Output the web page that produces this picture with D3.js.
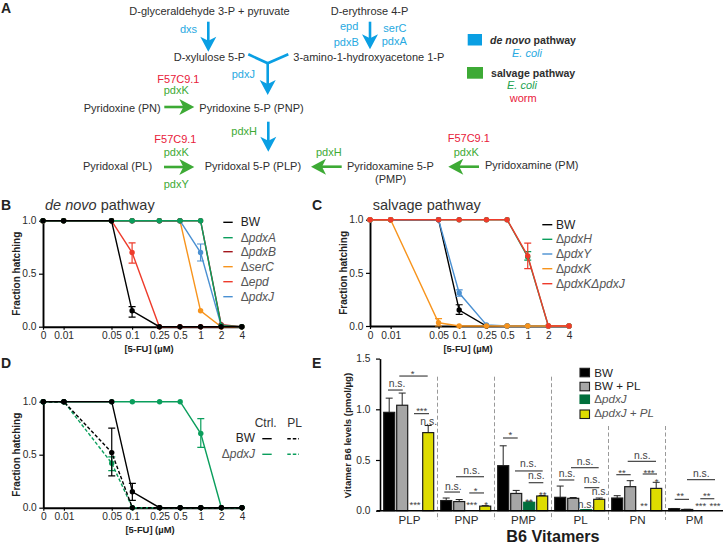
<!DOCTYPE html>
<html><head><meta charset="utf-8">
<script src="https://cdn.jsdelivr.net/npm/d3@7/dist/d3.min.js"></script>
<style>
html,body{margin:0;padding:0;background:#fff}
svg{display:block}
text{font-family:"Liberation Sans",Arial,sans-serif}
</style></head><body><svg id="c" width="723" height="548"></svg>
<script>
// ---------- dose-response data ----------
const doseLabels = ["0","0.01","0.05","0.1","0.25","0.5","1","2","4"];
const dosePositions = [0.005,0.01,0.05,0.1,0.25,0.5,1,2,4];

const bBW    = [1,1,1,0.15,0,0,0,0,0];
const bPdxA  = [1,1,1,1,1,1,1,0.01,0];
const bPdxB  = [1,1,1,1,1,1,1,0.02,0];
const bSerC  = [1,1,1,1,1,1,0.15,0,0];
const bEpd   = [1,1,1,0.7,0,0,0,0,0];
const bPdxJ  = [1,1,1,1,1,1,0.7,0.01,0];

const cBW    = [1,1,1,0.15,0,0,0,0,0];
const cPdxH  = [1,1,1,1,1,1,0.65,0,0];
const cPdxY  = [1,1,1,0.31,0.01,0,0,0,0];
const cPdxK  = [1,1,0.03,0,0,0,0,0,0];
const cPdxKJ = [1,1,1,1,1,1,0.66,0,0];

const dBW     = [1,1,1,0.15,0,0,0,0,0];
const dPdxJ   = [1,1,1,1,1,1,0.7,0,0];
const dBWPL   = [1,1,0.52,0,0,0,0,0,0];
const dPdxJPL = [1,1,0.42,0,0,0,0,0,0];

// ---------- vitamer data ----------
const vitamers = ["PLP","PNP","PMP","PL","PN","PM"];
const vSeries = ["BW","BW + PL","pdxJ","pdxJ + PL"];
const vBW      = [0.97,0.10,0.444,0.132,0.125,0.02];
const vBWPL    = [1.04,0.09,0.17,0.122,0.237,0.012];
const vPdxJ    = [0,0,0.083,0.01,0,0];
const vPdxJPL  = [0.77,0.045,0.145,0.112,0.22,0];
const vBWTop     = [1.11,0.125,0.64,0.243,0.148,0.022];
const vBWPLTop   = [1.16,0.11,0.20,0.13,0.296,0.014];
const vPdxJTop   = [0,0,0.088,0.012,0,0];
const vPdxJPLTop = [0.84,0.05,0.15,0.125,0.28,0];

// significance brackets: vitamer, from, to (px inside group), level (value)
const sigLines = [
 ["PLP",18.3,46.7,1.328],["PLP",7,21.7,1.19],["PLP",33,48,0.957],
 ["PNP",6.3,22,0.184],["PNP",18,46,0.335],["PNP",31.3,46,0.175],
 ["PMP",8,22.7,0.717],["PMP",20,47.7,0.392],["PMP",33.7,48.3,0.276],
 ["PL",7,22.3,0.303],["PL",19,46.7,0.424],["PL",32.3,47.3,0.227],
 ["PN",7.3,21.7,0.355],["PN",18.7,47,0.487],["PN",33.7,48,0.362],
 ["PM",8.7,23,0.112],["PM",21,49,0.306],["PM",34.3,48.3,0.118]];
const sigTexts = [
 ["PLP",31.7,1.319,"*"],["PLP",16,1.223,"n.s."],["PLP",40.7,0.955,"***"],["PLP",47.7,0.85,"n.s."],["PLP",34,0.022,"***"],
 ["PNP",15.3,0.204,"n.s."],["PNP",33.7,0.362,"n.s."],["PNP",37.7,0.160,"*"],["PNP",33.7,0.022,"***"],["PNP",48,0.022,"*"],
 ["PMP",15.3,0.719,"*"],["PMP",33.3,0.434,"n.s."],["PMP",41.3,0.313,"n.s."],["PMP",34,0.061,"**"],["PMP",47.7,0.125,"**"],
 ["PL",15,0.332,"n.s."],["PL",33,0.451,"n.s."],["PL",40,0.270,"n.s."],["PL",48,0.155,"n.s."],["PL",34,0.027,"n.s."],
 ["PN",13,0.347,"**"],["PN",33.3,0.507,"n.s."],["PN",40,0.347,"***"],["PN",47.7,0.258,"*"],["PN",35,0.012,"**"],
 ["PM",14.3,0.117,"**"],["PM",35.3,0.335,"n.s."],["PM",40.7,0.117,"**"],["PM",34.7,0.012,"***"],["PM",49,0.012,"***"]];

// ---------- palette ----------
const cGreen="#0a9e5c", cDark="#a3161c", cOrange="#f7941d", cRed="#ee3b2b", cBlue="#4a90d2";
const aBlue="#0a9fe3", tBlue="#27a9e1", aGreen="#3daa35", tRed="#e8203a", txt="#2e2e2e";

const svg=d3.select("#c");
const put=(x,y,s,o={})=>{
  const t=svg.append("text").attr("x",x).attr("y",y).text(s)
    .attr("font-size",o.size||11).attr("fill",o.fill||txt)
    .attr("text-anchor",o.anchor||"start");
  if(o.bold)t.attr("font-weight","bold");
  if(o.italic)t.attr("font-style","italic");
  return t;
};

// ---------- Panel A ----------
const pathwayLabels=[
 ["D-glyceraldehyde 3-P + pyruvate",129.3,15,txt],["D-erythrose 4-P",330.7,15,txt],
 ["dxs",180,33.3,tBlue],["epd",340,30,tBlue],["serC",383.3,32,tBlue],["pdxB",333.7,45.7,tBlue],["pdxA",381.7,45.3,tBlue],
 ["D-xylulose 5-P",173.7,61,txt],["3-amino-1-hydroxyacetone 1-P",293.3,61,txt],["pdxJ",231.7,77.7,tBlue],
 ["F57C9.1",157.3,83.3,tRed],["pdxK",163.7,94,aGreen],["Pyridoxine (PN)",83.7,112,txt],["Pyridoxine 5-P (PNP)",199.3,112,txt],
 ["pdxH",231.3,135,aGreen],["F57C9.1",154.3,142.7,tRed],["pdxK",163.7,156,aGreen],["Pyridoxal (PL)",83,170,txt],
 ["Pyridoxal 5-P (PLP)",204.7,170,txt],["pdxY",163.7,187.7,aGreen],["pdxH",316,155.7,aGreen],
 ["Pyridoxamine 5-P",347,170,txt],["(PMP)",375,182.7,txt],["F57C9.1",447.7,142.3,tRed],["pdxK",453.7,155.7,aGreen],
 ["Pyridoxamine (PM)",485,168.5,txt]];
pathwayLabels.forEach(d=>put(d[1],d[2],d[0],{fill:d[3]}));

const arrow=(x0,y0,x1,y1,col)=>{
  const a=Math.atan2(y1-y0,x1-x0),L=Math.hypot(x1-x0,y1-y0);
  const g=svg.append("g").attr("transform",`translate(${x0},${y0}) rotate(${a*180/Math.PI})`);
  g.append("line").attr("x1",0).attr("x2",L-6).attr("y1",0).attr("y2",0).attr("stroke",col).attr("stroke-width",2.6);
  g.append("path").attr("d",`M${L},0L${L-15},-8L${L-11},0L${L-15},8Z`).attr("fill",col);
};
[[208.3,21.7,208.3,51.7,aBlue],[370,21.7,370,49.3,aBlue],[267.7,63,267.7,95,aBlue],[268.3,121.7,268.3,151.7,aBlue],
 [164.3,107,194.3,107,aGreen],[164,167,194.3,167,aGreen],[341.7,166.7,311,166.7,aGreen],[479,166.7,448.3,166.7,aGreen]]
 .forEach(d=>arrow(...d));
svg.append("path").attr("d","M248.3,54.3L267.7,63.3L288.3,54.3").attr("fill","none").attr("stroke",aBlue).attr("stroke-width",2.6);

svg.append("rect").attr("x",467.7).attr("y",34).attr("width",14.3).attr("height",11.5).attr("fill",aBlue);
svg.append("rect").attr("x",467).attr("y",67).attr("width",16).attr("height",11.7).attr("fill",aGreen);
const dn=put(490,43.7,"",{bold:true,size:10.6});
dn.append("tspan").attr("font-style","italic").text("de novo");dn.append("tspan").text(" pathway");
put(512,56.7,"E. coli",{fill:tBlue,italic:true});
put(491,76.7,"salvage pathway",{bold:true,size:10.6});
put(507,88.7,"E. coli",{fill:"#22a24f",italic:true});
put(509.7,101.7,"worm",{fill:tRed});

// panel letters
[["A",1,13],["B",1,209.5],["C",312,210],["D",1,368],["E",312,368]].forEach(d=>put(d[1],d[2],d[0],{bold:true,size:14,fill:"#222"}));
const tt=put(45,210,"",{size:14.5,fill:"#333"});
tt.append("tspan").attr("font-style","italic").text("de novo");tt.append("tspan").text(" pathway");
put(372.7,210,"salvage pathway",{size:14.5,fill:"#333"});

// ---------- dose-response panels ----------
function panel(p){
  const x=d3.scaleLog().domain([0.005,4]).range([p.x0,p.x1]);
  const y=d3.scaleLinear().domain([0,1]).range([p.y0,p.y1]);
  const g=svg.append("g");
  const ax=g.append("g").attr("transform",`translate(0,${p.y0})`)
    .call(d3.axisBottom(x).tickValues(dosePositions).tickFormat((d,i)=>doseLabels[i]).tickSize(3).tickSizeOuter(0));
  const ay=g.append("g").attr("transform",`translate(${p.x0},0)`)
    .call(d3.axisLeft(y).tickValues([0,0.5,1]).tickFormat(d3.format(".1f")).tickSize(4).tickSizeOuter(0));
  [ax,ay].forEach(a=>{
    a.selectAll("path").attr("stroke","#000").attr("stroke-width",1.9);
    a.selectAll("line").attr("stroke","#000").attr("stroke-width",1.2);
    a.selectAll("text").attr("font-size",10.2).attr("fill","#2a2a2a").style("font-family",'"Liberation Sans",Arial,sans-serif');
  });
  ax.selectAll("text").attr("y",5.5);
  ay.selectAll("text").attr("x",-6.5);
  put(p.lx,p.y0+25.5,"[5-FU] (µM)",{bold:true,size:9.4,anchor:"middle",fill:"#222"});
  put(0,0,"Fraction hatching",{bold:true,size:10,anchor:"middle",fill:"#222"})
    .attr("transform",`translate(${p.x0-23.5},${(p.y0+p.y1)/2}) rotate(-90)`);
  const line=d3.line().x((d,i)=>x(dosePositions[i])).y(d=>y(d));
  p.series.forEach(s=>{
    g.append("path").datum(s.v).attr("d",line).attr("fill","none").attr("stroke",s.c)
      .attr("stroke-width",1.4).attr("stroke-dasharray",s.dash?"3.5,2":null);
    (s.err||[]).forEach(e=>{
      const X=x(dosePositions[e[0]]);
      g.append("path").attr("d",`M${X-3.5},${y(e[1])}H${X+3.5}M${X},${y(e[1])}V${y(e[2])}M${X-3.5},${y(e[2])}H${X+3.5}`)
        .attr("stroke",s.c).attr("stroke-width",1.2).attr("fill","none");
    });
    g.selectAll(null).data(s.v).join("circle")
      .attr("cx",(d,i)=>x(dosePositions[i])).attr("cy",d=>y(d)).attr("r",2.7).attr("fill",s.c);
  });
}
const ital=(x,y,name,size,anchor)=>{
  const t=put(x,y,"",{size:size||12,fill:"#555",anchor:anchor||"start"});
  t.append("tspan").text("Δ");t.append("tspan").attr("font-style","italic").text(name);
  return t;
};
const keyLine=(x0,x1,y,c,dash)=>svg.append("line").attr("x1",x0).attr("x2",x1).attr("y1",y).attr("y2",y)
  .attr("stroke",c).attr("stroke-width",1.4).attr("stroke-dasharray",dash?"3.5,2":null);

panel({x0:43,x1:241.8,y0:326.7,y1:220.7,lx:149,series:[
 {v:bEpd,c:cRed,err:[[3,0.6,0.79]]},
 {v:bSerC,c:cOrange},
 {v:bPdxJ,c:cBlue,err:[[6,0.62,0.78]]},
 {v:bPdxB,c:cDark},
 {v:bPdxA,c:cGreen},
 {v:bBW,c:"#000",err:[[3,0.09,0.19]]}]});
[["BW","#000",222.3],["pdxA",cGreen,237.7],["pdxB",cDark,251.7],["serC",cOrange,266.7],["epd",cRed,281.7],["pdxJ",cBlue,296.7]]
 .forEach((d,i)=>{keyLine(223.3,232.7,d[2],d[1]);
   if(i===0)put(240.7,d[2]+4,d[0],{size:12,fill:"#222"});else ital(240.7,d[2]+4,d[0]);});

panel({x0:370,x1:569,y0:326,y1:219.7,lx:468,series:[
 {v:cBW,c:"#000",err:[[3,0.11,0.20]]},
 {v:cPdxH,c:cGreen,err:[[6,0.62,0.7]]},
 {v:cPdxY,c:cBlue,err:[[3,0.28,0.34]]},
 {v:cPdxK,c:cOrange,err:[[2,0,0.07]]},
 {v:cPdxKJ,c:cRed,err:[[6,0.54,0.78]]}]});
[["BW","#000",224.7],["pdxH",cGreen,239.3],["pdxY",cBlue,254],["pdxK",cOrange,268.7],["pdxKΔpdxJ",cRed,283.7]]
 .forEach((d,i)=>{keyLine(542.3,552.3,d[2],d[1]);
   if(i===0)put(556,d[2]+4,d[0],{size:12,fill:"#222"});else ital(556,d[2]+4,d[0]);});

panel({x0:43.3,x1:242,y0:507.7,y1:401.7,lx:150,series:[
 {v:dPdxJ,c:cGreen,err:[[6,0.57,0.84]]},
 {v:dPdxJPL,c:cGreen,dash:true,err:[[2,0.35,0.48]]},
 {v:dBW,c:"#000",err:[[3,0.07,0.23]]},
 {v:dBWPL,c:"#000",dash:true,err:[[2,0.3,0.75]]}]});
put(254.7,426.7,"Ctrl.",{size:12,fill:"#333"});
put(287.3,426.7,"PL",{size:12,fill:"#333"});
put(235.7,441.7,"BW",{size:12,fill:"#222"});
ital(221.7,458.3,"pdxJ");
keyLine(262.3,271.7,438.7,"#000");keyLine(287.3,299,438.7,"#000",true);
keyLine(262.3,271.7,454.3,cGreen);keyLine(287.3,299,454.3,cGreen,true);

// ---------- Panel E ----------
const yE=d3.scaleLinear().domain([0,1.5]).range([510.7,358.6]);
const xE=d3.scaleBand().domain(vitamers).range([381,723]);
const xS=d3.scaleBand().domain(vSeries).range([2.7,52.7]).paddingInner(2/13);
const eColors=["#000","#a6a6a6","#006f3c","#dedc00"];
const eVals=[vBW,vBWPL,vPdxJ,vPdxJPL], eTops=[vBWTop,vBWPLTop,vPdxJTop,vPdxJPLTop];

vitamers.slice(1).forEach((v,i)=>{
  const X=xE(v)-0.5;
  svg.append("line").attr("x1",X).attr("x2",X).attr("y1",i<3?376.7:426).attr("y2",520)
    .attr("stroke","#999").attr("stroke-width",1).attr("stroke-dasharray","4,2.5");
});
const gE=svg.append("g");
vSeries.forEach((s,k)=>{
  const gs=gE.append("g");
  vitamers.forEach((v,i)=>{
    if(eVals[k][i]<=0)return;
    const X=xE(v)+xS(s),W=xS.bandwidth(),C=X+W/2;
    gs.append("path").attr("d",`M${C},${yE(eVals[k][i])}V${yE(eTops[k][i])}M${C-3.5},${yE(eTops[k][i])}H${C+3.5}`)
      .attr("stroke","#222").attr("stroke-width",1).attr("fill","none");
    gs.append("rect").attr("x",X).attr("width",W).attr("y",yE(eVals[k][i]))
      .attr("height",yE(0)-yE(eVals[k][i])).attr("fill",eColors[k])
      .attr("stroke",k===2?"#006f3c":"#1c1c1c").attr("stroke-width",1.2);
  });
});
const axE=svg.append("g").attr("transform",`translate(0,${yE(0)})`)
  .call(d3.axisBottom(xE).tickSize(0));
axE.select("path").attr("d","M376.7,0H723").attr("stroke","#000").attr("stroke-width",1.6);
axE.selectAll("text").attr("font-size",11.6).attr("fill","#2a2a2a").attr("y",5).style("font-family",'"Liberation Sans",Arial,sans-serif');
const ayE=svg.append("g").attr("transform","translate(380,0)")
  .call(d3.axisLeft(yE).tickValues([0,0.5,1,1.5]).tickFormat(d3.format(".1f")).tickSize(4).tickSizeOuter(0));
ayE.selectAll("path").attr("stroke","#000").attr("stroke-width",1.6);
ayE.selectAll("line").attr("stroke","#000").attr("stroke-width",1.2);
ayE.selectAll("text").attr("font-size",10.2).attr("x",-9.5).attr("fill","#2a2a2a").style("font-family",'"Liberation Sans",Arial,sans-serif');
put(0,0,"Vitamer B6 levels (pmol/µg)",{bold:true,size:9.6,anchor:"middle",fill:"#222"})
  .attr("transform","translate(350.5,435.5) rotate(-90)");
put(553,541.7,"B6 Vitamers",{bold:true,size:16.2,anchor:"middle",fill:"#1c1c1c"});

sigLines.forEach(d=>svg.append("line").attr("x1",xE(d[0])+d[1]).attr("x2",xE(d[0])+d[2])
  .attr("y1",yE(d[3])).attr("y2",yE(d[3])).attr("stroke","#333").attr("stroke-width",1.1));
sigTexts.forEach(d=>put(xE(d[0])+d[1],yE(d[2]),d[3],{size:d[3]==="n.s."?10.4:9.5,anchor:"middle",fill:"#444"}));

// legend E
[[368.3,376.7],[382.3,390],[395,403.3],[410,417.3]].forEach((r,i)=>{
  svg.append("rect").attr("x",580).attr("y",r[0]).attr("width",9.5).attr("height",8.5)
    .attr("fill",eColors[i]).attr("stroke",i===2?"#006f3c":"#1c1c1c").attr("stroke-width",1.1);
});
put(594.3,376.7,"BW",{size:11.6,fill:"#222"});
put(594.3,390,"BW + PL",{size:11.6,fill:"#222"});
ital(594.3,403.3,"pdxJ",11.6);
ital(594.3,417.3,"pdxJ + PL",11.6);
</script></body></html>
